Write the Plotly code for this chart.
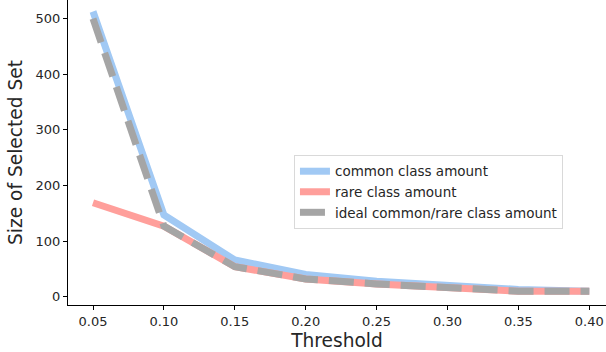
import plotly.graph_objects as go

thresholds = [0.05, 0.10, 0.15, 0.20, 0.25, 0.30, 0.35, 0.40]
common_amount = [513, 147, 66, 40, 28, 21, 13, 10]
rare_amount = [169, 127, 54, 32, 23, 16, 10, 10]
ideal_amount = [500, 127, 54, 32, 23, 16, 10, 10]
x_ticks = [0.05, 0.10, 0.15, 0.20, 0.25, 0.30, 0.35, 0.40]
x_tick_labels = ["0.05", "0.10", "0.15", "0.20", "0.25", "0.30", "0.35", "0.40"]
y_ticks = [0, 100, 200, 300, 400, 500]

fig = go.Figure()
fig.add_trace(go.Scatter(x=thresholds, y=common_amount, mode="lines",
                         name="common class amount",
                         line=dict(color="#a1c9f4", width=7)))
fig.add_trace(go.Scatter(x=thresholds, y=rare_amount, mode="lines",
                         name="rare class amount",
                         line=dict(color="#ff9f9b", width=7)))
fig.add_trace(go.Scatter(x=thresholds, y=ideal_amount, mode="lines",
                         name="ideal common/rare class amount",
                         line=dict(color="#a5a5a5", width=7, dash="25px,11px")))

font = "DejaVu Sans"
fig.update_layout(
    width=606, height=352,
    margin=dict(l=68, r=0, t=0, b=47),
    paper_bgcolor="white", plot_bgcolor="white",
    font=dict(family=font, size=13, color="#262626"),
    showlegend=True,
    legend=dict(x=0.42, y=0.492, xanchor="left", yanchor="top",
                bgcolor="rgba(255,255,255,0.8)", bordercolor="#d9d9d9", borderwidth=1,
                font=dict(family=font, size=13.5, color="#262626"),
                tracegroupgap=0, itemwidth=30),
)
fig.update_xaxes(
    range=[0.03236, 0.4118], tickvals=x_ticks, ticktext=x_tick_labels,
    showgrid=False, zeroline=False, showline=True, linecolor="black", linewidth=1,
    ticks="outside", ticklen=4, tickcolor="black",
    tickfont=dict(family=font, size=13, color="#262626"),
    title=dict(text="Threshold", font=dict(family=font, size=18.6, color="#262626"), standoff=6),
)
fig.update_yaxes(
    range=[-14.9, 533.7], tickvals=y_ticks,
    showgrid=False, zeroline=False, showline=True, linecolor="black", linewidth=1,
    ticks="outside", ticklen=4, tickcolor="black",
    tickfont=dict(family=font, size=13, color="#262626"),
    title=dict(text="Size of Selected Set", font=dict(family=font, size=18.6, color="#262626"), standoff=8),
)
fig.write_html("out.html")
